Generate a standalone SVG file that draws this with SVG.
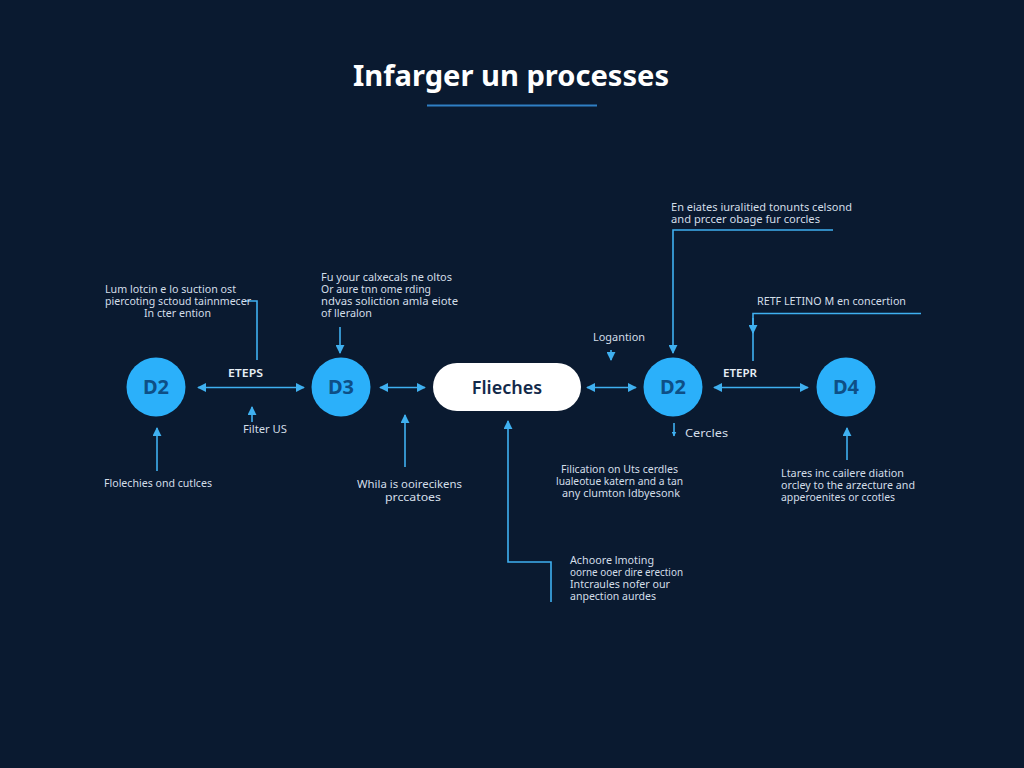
<svg xmlns="http://www.w3.org/2000/svg" width="1024" height="768" viewBox="0 0 1024 768">
<style>
text{font-family:"Noto Sans","Open Sans","DejaVu Sans",sans-serif}
.t{font-size:10.5px;fill:#d3dee8}
.l{font-size:11px;fill:#e6eef5;font-weight:600}
.n{font-size:20px;font-weight:700;fill:#0e4f86;text-anchor:middle}
.c{fill:#2bb0fa}
.w{fill:none;stroke:#3fb0f0;stroke-width:1.6}
.a{marker-end:url(#h)}
.b{marker-start:url(#hs);marker-end:url(#h)}
</style>
<defs>
<marker id="h" viewBox="0 0 10 10" refX="9" refY="5" markerWidth="9" markerHeight="9" markerUnits="userSpaceOnUse" orient="auto"><path d="M0 0L10 5L0 10z" fill="#3fb0f0"/></marker>
<marker id="hs" viewBox="0 0 10 10" refX="1" refY="5" markerWidth="9" markerHeight="9" markerUnits="userSpaceOnUse" orient="auto"><path d="M10 0L0 5L10 10z" fill="#3fb0f0"/></marker>
<marker id="hm" viewBox="0 0 10 10" refX="9" refY="5" markerWidth="5" markerHeight="5" markerUnits="userSpaceOnUse" orient="auto"><path d="M0 0L10 5L0 10z" fill="#3fb0f0"/></marker>
</defs>
<rect width="1024" height="768" fill="#0a1a30"/>
<g id="title">
<text x="511" y="86" text-anchor="middle" font-size="29" font-weight="700" fill="#fff" textLength="316" lengthAdjust="spacingAndGlyphs">Infarger un processes</text>
<rect x="427" y="104.500" width="170" height="2" fill="#2f7fc4"/>
</g>
<g id="connectors">
<path class="w b" d="M198 387.500H304"/>
<path class="w b" d="M380 387.500H425"/>
<path class="w b" d="M587 387.500H636"/>
<path class="w b" d="M714 387.500H808"/>
<path class="w" d="M245 301H257V360"/>
<path class="w a" d="M340 327V353"/>
<path class="w a" d="M252 422V407"/>
<path class="w a" d="M157 471V428"/>
<path class="w a" d="M405 467V415"/>
<path class="w a" d="M611 350V360"/>
<path class="w a" d="M833 230H673V353"/>
<path class="w" d="M921 313.500H753V361"/>
<path class="w a" d="M753 318V333"/>
<path class="w" marker-end="url(#hm)" d="M674 423V436"/>
<path class="w a" d="M847 460V428"/>
<path class="w a" d="M551 602V562H508V421"/>
</g>
<g id="node-d2-a"><circle class="c" cx="156" cy="387" r="29.500"/><text class="n" x="156" y="394">D2</text></g>
<g id="node-d3"><circle class="c" cx="341" cy="387" r="29.500"/><text class="n" x="341" y="394">D3</text></g>
<g id="node-flieches"><rect x="433" y="363" width="148" height="48" rx="24" fill="#fff"/><text x="507" y="394" text-anchor="middle" font-size="18" font-weight="600" fill="#12294a">Flieches</text></g>
<g id="node-d2-b"><circle class="c" cx="673" cy="387" r="29.500"/><text class="n" x="673" y="394">D2</text></g>
<g id="node-d4"><circle class="c" cx="846" cy="387" r="29.500"/><text class="n" x="846" y="394">D4</text></g>
<g id="labels">
<text class="t" x="105" y="293" textLength="131" lengthAdjust="spacingAndGlyphs">Lum lotcin e lo suction ost</text>
<text class="t" x="105" y="305" textLength="146" lengthAdjust="spacingAndGlyphs">piercoting sctoud tainnmecer</text>
<text class="t" x="144" y="317" textLength="67" lengthAdjust="spacingAndGlyphs">In cter ention</text>
<text class="t" x="321" y="281" textLength="131" lengthAdjust="spacingAndGlyphs">Fu your calxecals ne oltos</text>
<text class="t" x="321" y="293" textLength="110" lengthAdjust="spacingAndGlyphs">Or aure tnn ome rding</text>
<text class="t" x="321" y="305" textLength="137" lengthAdjust="spacingAndGlyphs">ndvas soliction amla eiote</text>
<text class="t" x="321" y="317" textLength="51" lengthAdjust="spacingAndGlyphs">of lleralon</text>
<text class="l" x="228" y="377" textLength="35" lengthAdjust="spacingAndGlyphs">ETEPS</text>
<text class="t" x="243" y="433" textLength="44" lengthAdjust="spacingAndGlyphs">Filter US</text>
<text class="t" x="104" y="487" textLength="108" lengthAdjust="spacingAndGlyphs">Flolechies ond cutlces</text>
<text class="t" x="357" y="488" textLength="105" lengthAdjust="spacingAndGlyphs">Whila is ooirecikens</text>
<text class="t" x="385" y="501" textLength="56" lengthAdjust="spacingAndGlyphs">prccatoes</text>
<text class="t" x="671" y="211" textLength="181" lengthAdjust="spacingAndGlyphs">En eiates iuralitied tonunts celsond</text>
<text class="t" x="671" y="223" textLength="149" lengthAdjust="spacingAndGlyphs">and prccer obage fur corcles</text>
<text class="t" x="757" y="305" textLength="149" lengthAdjust="spacingAndGlyphs">RETF LETINO M en concertion</text>
<text class="t" x="593" y="341" textLength="52" lengthAdjust="spacingAndGlyphs">Logantion</text>
<text class="l" x="723" y="377" textLength="34" lengthAdjust="spacingAndGlyphs">ETEPR</text>
<text class="t" x="685" y="437" textLength="43" lengthAdjust="spacingAndGlyphs">Cercles</text>
<text class="t" x="561" y="473" textLength="117" lengthAdjust="spacingAndGlyphs">Filication on Uts cerdles</text>
<text class="t" x="556" y="485" textLength="127" lengthAdjust="spacingAndGlyphs">lualeotue katern and a tan</text>
<text class="t" x="562" y="497" textLength="118" lengthAdjust="spacingAndGlyphs">any clumton ldbyesonk</text>
<text class="t" x="781" y="477" textLength="123" lengthAdjust="spacingAndGlyphs">Ltares inc cailere diation</text>
<text class="t" x="781" y="489" textLength="134" lengthAdjust="spacingAndGlyphs">orcley to the arzecture and</text>
<text class="t" x="781" y="501" textLength="114" lengthAdjust="spacingAndGlyphs">apperoenites or ccotles</text>
<text class="t" x="570" y="564" textLength="84" lengthAdjust="spacingAndGlyphs">Achoore lmoting</text>
<text class="t" x="570" y="576" textLength="113" lengthAdjust="spacingAndGlyphs">oorne ooer dire erection</text>
<text class="t" x="570" y="588" textLength="100" lengthAdjust="spacingAndGlyphs">Intcraules nofer our</text>
<text class="t" x="570" y="600" textLength="86" lengthAdjust="spacingAndGlyphs">anpection aurdes</text>
</g>
</svg>
